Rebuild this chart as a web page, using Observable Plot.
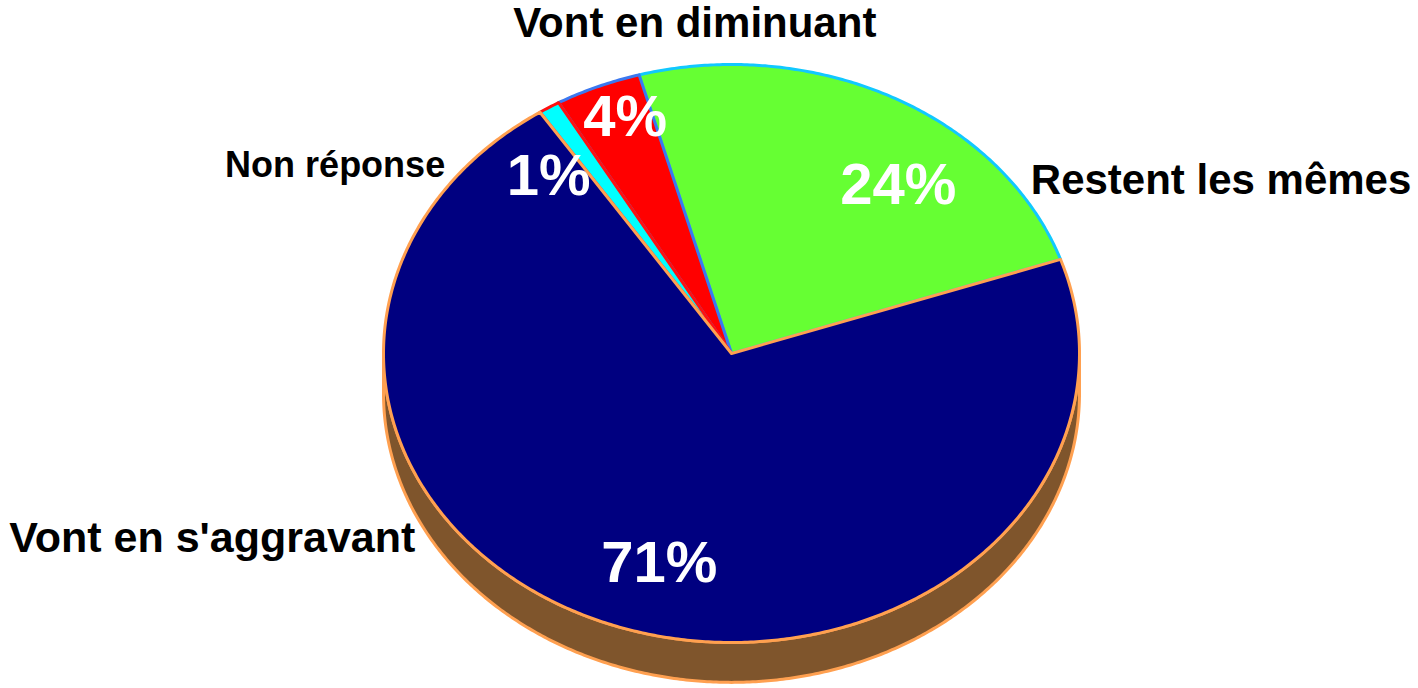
<!DOCTYPE html>
<html><head><meta charset="utf-8">
<script src="https://cdn.jsdelivr.net/npm/d3@7"></script>
<script src="https://cdn.jsdelivr.net/npm/@observablehq/plot@0.6"></script>
<style>body{margin:0;background:#fff;overflow:hidden}</style>
</head><body><div id="chart"></div>
<script>
// Data (pie order, counter-clockwise starting just above 3 o'clock)
const categories = ["Restent les mêmes", "Vont en diminuant", "Non réponse", "Vont en s'aggravant"];
const values = [24, 4, 1, 71];
const valueLabels = ["24%", "4%", "1%", "71%"];

// Styles
const fills = ["#66ff33", "#ff0000", "#00ffff", "#000080"];
const edges = ["#11c8ff", "#3b78f0", "#ff1010", "#ffa050"];
const startDeg = 19;          // tilt of first slice edge (parametric angle)
const depth = 0.138;          // extrusion depth in y units

const rad = Math.PI / 180;
const pie = d3.pie().sort(null)
  .startAngle(startDeg * rad)
  .endAngle(startDeg * rad + 2 * Math.PI)(values);

function arcPoints(a0, a1, r = 1, dy = 0) {
  const n = Math.max(2, Math.ceil(Math.abs(a1 - a0) / (0.5 * rad)));
  return d3.range(n + 1).map(i => {
    const a = a0 + (a1 - a0) * i / n;
    return {x: r * Math.cos(a), y: r * Math.sin(a) + dy};
  });
}

const slices = pie.map((p, i) => ({
  cat: categories[i],
  label: valueLabels[i],
  mid: (p.startAngle + p.endAngle) / 2,
  pts: [{x: 0, y: 0}, ...arcPoints(p.startAngle, p.endAngle), {x: 0, y: 0}]
}));

// side band (visible lower half, extruded downward)
const side = [...arcPoints(Math.PI, 2 * Math.PI, 1, -depth),
              ...arcPoints(2 * Math.PI, Math.PI, 1, 0)];

const font = {fontFamily: "'Liberation Sans', Arial, sans-serif", fontWeight: "bold"};

function valueText(i, r, dx, dy) {
  const s = slices[i];
  return Plot.text([s], {x: d => r * Math.cos(d.mid), y: d => r * Math.sin(d.mid),
    text: "label", fill: "white", fontSize: 58, dx, dy, ...font});
}
function catText(i, anchor, dx, dy, size) {
  const s = slices[i];
  return Plot.text([s], {x: d => Math.cos(d.mid), y: d => Math.sin(d.mid),
    text: "cat", fill: "black", fontSize: size, textAnchor: anchor, dx, dy, ...font});
}

const chart = Plot.plot({
  width: 1418, height: 688,
  margin: 0,
  x: {domain: [-1, 1], range: [383, 1079], axis: null},
  y: {domain: [-1, 1], range: [642, 64], axis: null},
  marks: [
    Plot.line(side, {x: "x", y: "y", fill: "#7f552c", stroke: "#ffa050", strokeWidth: 3, curve: "linear-closed"}),
    ...slices.map((s, i) => Plot.line(s.pts, {x: "x", y: "y", fill: fills[i], stroke: edges[i],
      strokeWidth: 3, strokeLinejoin: "round", curve: "linear-closed"})),
    valueText(0, 0.75, 45, 24),
    valueText(1, 0.75, -6, -36),
    valueText(2, 0.75, -46, 8),
    valueText(3, 0.75, 12, 5),
    catText(0, "start", 137, 83, 42),
    catText(1, "middle", 97, -63, 42),
    catText(2, "end", -104, 58, 36),
    catText(3, "end", -204, -89, 43)
  ]
});
document.getElementById("chart").append(chart);
</script>
</body></html>
